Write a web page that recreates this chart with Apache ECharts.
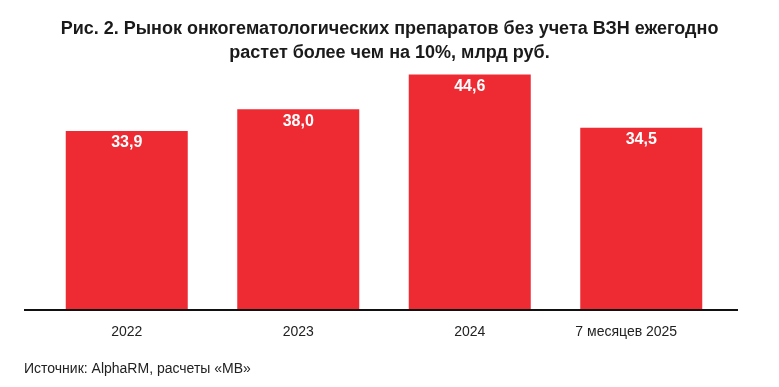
<!DOCTYPE html>
<html><head><meta charset="utf-8">
<script src="https://cdn.jsdelivr.net/npm/echarts@6/dist/echarts.min.js"></script>
<style>html,body{margin:0;padding:0;background:#fff}#c{width:779px;height:387px}</style>
</head><body><div id="c"></div>
<script>
const categories = ['2022', '2023', '2024', '7 месяцев 2025'];
const values = [33.9, 38.0, 44.6, 34.5];
const titleLines = ['Рис. 2. Рынок онкогематологических препаратов без учета ВЗН ежегодно', 'растет более чем на 10%, млрд руб.'];
const sourceText = 'Источник: AlphaRM, расчеты «МВ»';

const chart = echarts.init(document.getElementById('c'));
chart.setOption({
  backgroundColor: '#fff',
  animation: false,
  title: {
    text: titleLines.join('\n'),
    left: 'center', top: 12,
    textStyle: { fontFamily: 'Liberation Sans, Arial, sans-serif', fontWeight: 'bold', fontSize: 18, lineHeight: 24, color: '#1a1a1a' }
  },
  grid: { left: 41, right: 52, top: 46, bottom: 77 },
  xAxis: {
    type: 'category',
    data: categories.map((c, i) => i === categories.length - 1 ? { value: c, textStyle: { padding: [0, 30, 0, 0] } } : c),
    axisLine: { show: false }, axisTick: { show: false },
    axisLabel: { margin: 15, fontSize: 14, color: '#222', fontFamily: 'Liberation Sans, Arial, sans-serif' }
  },
  yAxis: { type: 'value', min: 0, max: 50, show: false, splitLine: { show: false } },
  series: [{
    type: 'bar', data: values, barWidth: 122,
    itemStyle: { color: '#ee2a33' },
    label: {
      show: true, position: 'insideTop', distance: 4,
      color: '#fff', fontWeight: 'bold', fontSize: 16, fontFamily: 'Liberation Sans, Arial, sans-serif',
      formatter: p => p.value.toFixed(1).replace('.', ',')
    }
  }],
  graphic: [
    { type: 'line', shape: { x1: 24, y1: 310, x2: 738, y2: 310 }, style: { stroke: '#111', lineWidth: 2 }, z: 10 },
    { type: 'text', left: 24, top: 362, style: { text: sourceText, fontSize: 14, fill: '#222', fontFamily: 'Liberation Sans, Arial, sans-serif' } }
  ]
});
</script></body></html>
